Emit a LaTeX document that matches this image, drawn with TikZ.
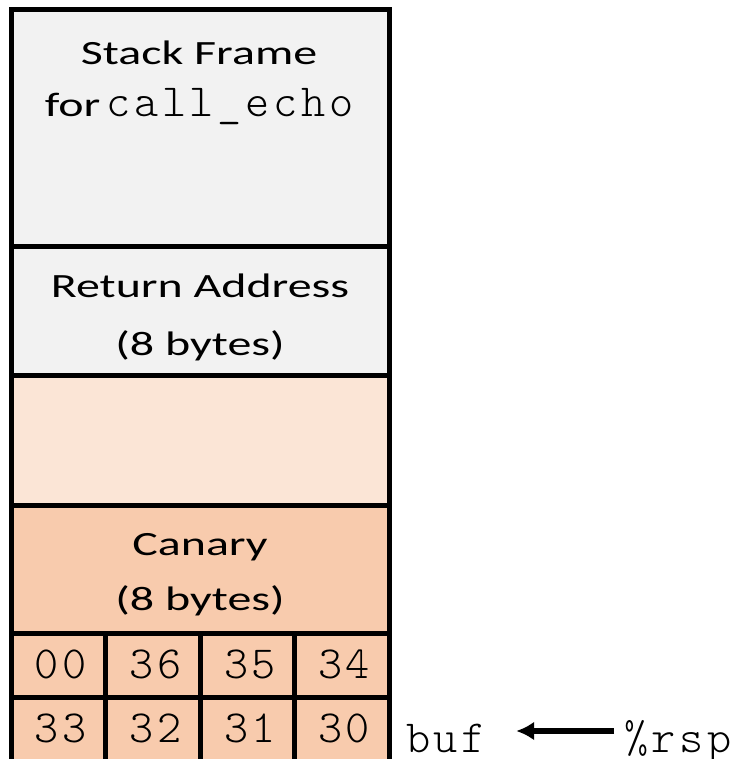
\documentclass[tikz,border=0pt]{standalone}
\usepackage{fontspec}
\setmainfont{Carlito}
\newfontfamily\codefont[Extension=.otf, UprightFont=*-regular, LetterSpace=8]{lmmonolt10}
\newcommand\codef{\codefont\fontsize{46}{50}\selectfont}
\newcommand\wide[1]{\scalebox{1.41}[1]{#1}}
\usetikzlibrary{arrows.meta}
\definecolor{framegray}{HTML}{F2F2F2}
\definecolor{lightpeach}{HTML}{FBE5D6}
\definecolor{peach}{HTML}{F8CBAD}
\begin{document}
\begin{tikzpicture}[x=1pt,y=-1pt,
  box/.style={draw=black, line width=5pt, inner sep=0pt, outer sep=0pt, anchor=north west, minimum width=377.5pt},
  cellbox/.style={draw=black, line width=5pt, inner sep=0pt, outer sep=0pt, anchor=north west, fill=peach},
  txt/.style={font=\fontsize{34}{40}\selectfont, inner sep=0pt, anchor=base},
  code/.style={font=\codef, inner sep=0pt, anchor=base},
  ptr/.style={font=\codef, inner sep=0pt, text height=42pt, text depth=0pt},
  arr/.style={-{Latex[length=18pt,width=19pt]}, line width=6pt}
]
\useasboundingbox (0,0) rectangle (745,759);
\clip (0,0) rectangle (745,759);
% stack boxes
\node[box, fill=framegray, minimum height=236.5pt] (sf) at (11.5,10) {};
\node[box, fill=framegray, minimum height=128.5pt] (ra) at (11.5,246.5) {};
\node[box, fill=lightpeach, minimum height=130.5pt] (pad) at (11.5,375) {};
\node[box, fill=peach, minimum height=127.5pt] (can) at (11.5,505.5) {};
% byte cells
\node[cellbox, minimum width=94pt, minimum height=64pt] (c00) at (11.5,633) {};
\node[cellbox, minimum width=95pt, minimum height=64pt] (c36) at (105.5,633) {};
\node[cellbox, minimum width=94pt, minimum height=64pt] (c35) at (200.5,633) {};
\node[cellbox, minimum width=94.5pt, minimum height=64pt] (c34) at (294.5,633) {};
\node[cellbox, minimum width=94pt, minimum height=66pt] (c33) at (11.5,697) {};
\node[cellbox, minimum width=95pt, minimum height=66pt] (c32) at (105.5,697) {};
\node[cellbox, minimum width=94pt, minimum height=66pt] (c31) at (200.5,697) {};
\node[cellbox, minimum width=94.5pt, minimum height=66pt] (c30) at (294.5,697) {};
% texts
\node[txt] (sf1) at (199,65) {\wide{Stack Frame}};
\node[txt] (sf2) at (199,117) {\wide{for}\hspace{6pt}{\codef call\_echo}};
\node[txt] (ra1) at (200,297) {\wide{Return Address}};
\node[txt] (ra2) at (200,355) {\wide{(8 bytes)}};
\node[txt] (can1) at (200,555) {\wide{Canary}};
\node[txt] (can2) at (200,610) {\wide{(8 bytes)}};
\node[code] (t00) at (60.5,678) {00};
\node[code] (t36) at (155.5,678) {36};
\node[code] (t35) at (250,678) {35};
\node[code] (t34) at (344,678) {34};
\node[code] (t33) at (60.5,742) {33};
\node[code] (t32) at (155.5,742) {32};
\node[code] (t31) at (250,742) {31};
\node[code] (t30) at (344,742) {30};
% pointer
\node[ptr, anchor=base west] (buf) at (406,752) {buf};
\node[ptr, anchor=base west] (rsp) at (624,752) {\%rsp};
\draw[arr, shorten >=30pt, shorten <=10pt] (rsp.west) -- (buf.east);
\end{tikzpicture}
\end{document}
